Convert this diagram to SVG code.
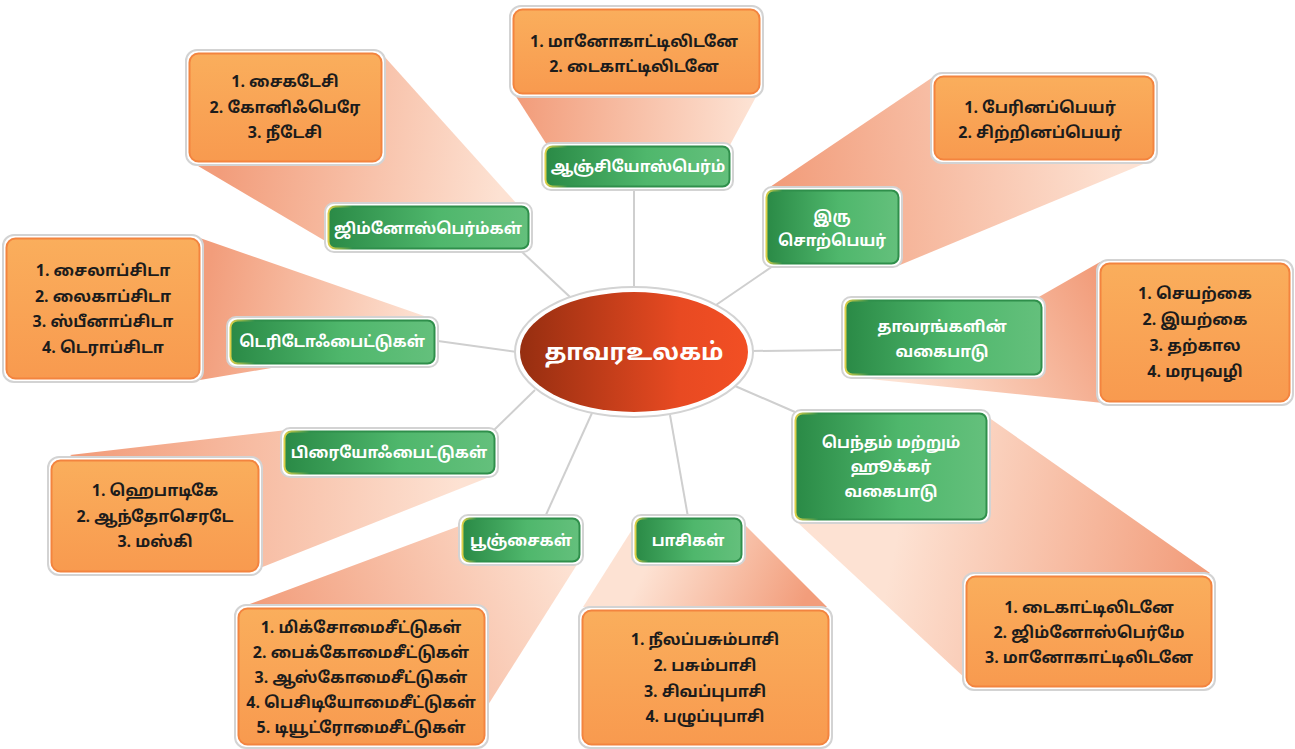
<svg xmlns="http://www.w3.org/2000/svg" width="1295" height="749" viewBox="0 0 1295 749">
<defs>
<linearGradient id="gFill" x1="0" y1="0" x2="1" y2="0"><stop offset="0" stop-color="#2a8a46"/><stop offset="0.55" stop-color="#4fb76c"/><stop offset="1" stop-color="#64c07c"/></linearGradient>
<linearGradient id="gStroke" x1="0" y1="0" x2="1" y2="0"><stop offset="0" stop-color="#dccf48"/><stop offset="0.12" stop-color="#2f8f4b"/><stop offset="1" stop-color="#2f8f4b"/></linearGradient>
<linearGradient id="oFill" x1="0" y1="0" x2="0" y2="1"><stop offset="0" stop-color="#faae5c"/><stop offset="1" stop-color="#f89a4f"/></linearGradient>
<linearGradient id="rFill" x1="0" y1="0" x2="1" y2="0"><stop offset="0" stop-color="#962e10"/><stop offset="0.7" stop-color="#e84a22"/><stop offset="1" stop-color="#f24f24"/></linearGradient>
<linearGradient id="fA" gradientUnits="userSpaceOnUse" x1="520" y1="110" x2="750" y2="120"><stop offset="0" stop-color="#f29d7b"/><stop offset="1" stop-color="#fde2d3"/></linearGradient>
<linearGradient id="fB" gradientUnits="userSpaceOnUse" x1="220" y1="170" x2="500" y2="200"><stop offset="0" stop-color="#f29d7b"/><stop offset="1" stop-color="#fde2d3"/></linearGradient>
<linearGradient id="fC" gradientUnits="userSpaceOnUse" x1="780" y1="200" x2="1120" y2="170"><stop offset="0" stop-color="#f29d7b"/><stop offset="1" stop-color="#fde2d3"/></linearGradient>
<linearGradient id="fD" gradientUnits="userSpaceOnUse" x1="205" y1="300" x2="420" y2="330"><stop offset="0" stop-color="#f29d7b"/><stop offset="1" stop-color="#fde2d3"/></linearGradient>
<linearGradient id="fE" gradientUnits="userSpaceOnUse" x1="1095" y1="275" x2="900" y2="385"><stop offset="0" stop-color="#f29d7b"/><stop offset="1" stop-color="#fde2d3"/></linearGradient>
<linearGradient id="fF" gradientUnits="userSpaceOnUse" x1="80" y1="460" x2="460" y2="470"><stop offset="0" stop-color="#f29d7b"/><stop offset="1" stop-color="#fde2d3"/></linearGradient>
<linearGradient id="fG" gradientUnits="userSpaceOnUse" x1="1200" y1="580" x2="900" y2="520"><stop offset="0" stop-color="#f29d7b"/><stop offset="1" stop-color="#fde2d3"/></linearGradient>
<linearGradient id="fH" gradientUnits="userSpaceOnUse" x1="270" y1="650" x2="560" y2="540"><stop offset="0" stop-color="#f29d7b"/><stop offset="1" stop-color="#fde2d3"/></linearGradient>
<linearGradient id="fI" gradientUnits="userSpaceOnUse" x1="800" y1="610" x2="660" y2="540"><stop offset="0" stop-color="#f29d7b"/><stop offset="1" stop-color="#fde2d3"/></linearGradient>
</defs>
<style>
.out{fill:#fff;stroke:#d3d3d3;stroke-width:2}
.g{fill:url(#gFill);stroke:url(#gStroke);stroke-width:2}
.o{fill:url(#oFill);stroke:#f3843f;stroke-width:2}
.conn{stroke:#cfcfcf;stroke-width:2;fill:none}
.ot{font-family:"Noto Sans Tamil","Noto Sans","Liberation Sans",sans-serif;font-size:16px;font-weight:700;fill:#1c1c1c;text-anchor:middle}
.gt{font-family:"Noto Sans Tamil","Noto Sans","Liberation Sans",sans-serif;font-size:15.5px;font-weight:700;fill:#fff;text-anchor:middle}
.ct{font-family:"Noto Sans Tamil","Noto Sans","Liberation Sans",sans-serif;font-size:24px;font-weight:700;fill:#fff;text-anchor:middle}
</style>
<g id="fans">
<polygon points="515,95 757,95 730,145 547,145" fill="url(#fA)"/>
<polygon points="193,163 383,55 517,204 327,242" fill="url(#fB)"/>
<polygon points="770,187 933,77 1153,160 900,265" fill="url(#fC)"/>
<polygon points="197,237 430,318 277,367 200,380" fill="url(#fD)"/>
<polygon points="1037,298 1100,262 1103,403 850,377" fill="url(#fE)"/>
<polygon points="70,455 287,430 487,478 260,568" fill="url(#fF)"/>
<polygon points="988,417 1210,573 967,680 798,523" fill="url(#fG)"/>
<polygon points="247,605 462,525 578,563 488,705" fill="url(#fH)"/>
<polygon points="635,525 745,525 827,607 583,607" fill="url(#fI)"/>
</g>
<g id="connectors">
<line class="conn" x1="634" y1="190" x2="634" y2="290"/>
<line class="conn" x1="520" y1="250" x2="570" y2="297"/>
<line class="conn" x1="773" y1="266" x2="716" y2="305"/>
<line class="conn" x1="438" y1="341" x2="517" y2="352"/>
<line class="conn" x1="751" y1="351" x2="843" y2="350"/>
<line class="conn" x1="535" y1="390" x2="493" y2="431"/>
<line class="conn" x1="735" y1="386" x2="795" y2="412"/>
<line class="conn" x1="592" y1="413" x2="545" y2="517"/>
<line class="conn" x1="670" y1="415" x2="688" y2="517"/>
</g>
<g id="center">
<ellipse class="out" cx="634" cy="352" rx="119" ry="65"/>
<ellipse cx="634" cy="352" rx="114" ry="60" fill="url(#rFill)"/>
<text class="ct" x="634" y="360">தாவரஉலகம்</text>
</g>
<g id="n-angio">
<rect class="out" x="542" y="143" width="191" height="47" rx="9"/>
<rect class="g" x="545.5" y="146.5" width="184" height="40" rx="7"/>
<text class="gt" x="638" y="172">ஆஞ்சியோஸ்பெர்ம்</text>
</g>
<g id="n-gymno">
<rect class="out" x="325" y="203" width="207" height="49" rx="9"/>
<rect class="g" x="328.5" y="206.5" width="200" height="42" rx="7"/>
<text class="gt" x="428" y="234">ஜிம்னோஸ்பெர்ம்கள்</text>
</g>
<g id="n-binomial">
<rect class="out" x="763" y="187" width="139" height="80" rx="9"/>
<rect class="g" x="766.5" y="190.5" width="132" height="73" rx="7"/>
<text class="gt" x="832" y="222">இரு</text>
<text class="gt" x="832" y="246">சொற்பெயர்</text>
</g>
<g id="n-pterido">
<rect class="out" x="227" y="317" width="211" height="50" rx="9"/>
<rect class="g" x="230.5" y="320.5" width="204" height="43" rx="7"/>
<text class="gt" x="332" y="347">டெரிடோஃபைட்டுகள்</text>
</g>
<g id="n-classif">
<rect class="out" x="842" y="297" width="203" height="81" rx="9"/>
<rect class="g" x="845.5" y="300.5" width="196" height="74" rx="7"/>
<text class="gt" x="942" y="332">தாவரங்களின்</text>
<text class="gt" x="942" y="357">வகைபாடு</text>
</g>
<g id="n-bryo">
<rect class="out" x="281" y="428" width="217" height="49" rx="9"/>
<rect class="g" x="284.5" y="431.5" width="210" height="42" rx="7"/>
<text class="gt" x="389" y="458">பிரையோஃபைட்டுகள்</text>
</g>
<g id="n-bentham">
<rect class="out" x="792" y="410" width="198" height="113" rx="9"/>
<rect class="g" x="795.5" y="413.5" width="191" height="106" rx="7"/>
<text class="gt" x="891" y="448">பெந்தம் மற்றும்</text>
<text class="gt" x="891" y="472">ஹூக்கர்</text>
<text class="gt" x="891" y="497">வகைபாடு</text>
</g>
<g id="n-fungi">
<rect class="out" x="459" y="515" width="124" height="50" rx="9"/>
<rect class="g" x="462.5" y="518.5" width="117" height="43" rx="7"/>
<text class="gt" x="521" y="546">பூஞ்சைகள்</text>
</g>
<g id="n-algae">
<rect class="out" x="632" y="515" width="113" height="50" rx="9"/>
<rect class="g" x="635.5" y="518.5" width="106" height="43" rx="7"/>
<text class="gt" x="688" y="546">பாசிகள்</text>
</g>
<g id="l-angio">
<rect class="out" x="510" y="6" width="253" height="91" rx="11"/>
<rect class="o" x="513.5" y="9.5" width="246" height="84" rx="9"/>
<text class="ot" x="634" y="47">1. மானோகாட்டிலிடனே</text>
<text class="ot" x="634" y="72">2. டைகாட்டிலிடனே</text>
</g>
<g id="l-gymno">
<rect class="out" x="186" y="50" width="199" height="115" rx="11"/>
<rect class="o" x="189.5" y="53.5" width="192" height="108" rx="9"/>
<text class="ot" x="285" y="87">1. சைகடேசி</text>
<text class="ot" x="285" y="113">2. கோனிஃபெரே</text>
<text class="ot" x="285" y="138">3. நீடேசி</text>
</g>
<g id="l-binomial">
<rect class="out" x="931" y="73" width="226" height="90" rx="11"/>
<rect class="o" x="934.5" y="76.5" width="219" height="83" rx="9"/>
<text class="ot" x="1040" y="113">1. பேரினப்பெயர்</text>
<text class="ot" x="1040" y="138">2. சிற்றினப்பெயர்</text>
</g>
<g id="l-pterido">
<rect class="out" x="3" y="235" width="200" height="147" rx="11"/>
<rect class="o" x="6.5" y="238.5" width="193" height="140" rx="9"/>
<text class="ot" x="103" y="276">1. சைலாப்சிடா</text>
<text class="ot" x="103" y="302">2. லைகாப்சிடா</text>
<text class="ot" x="103" y="327">3. ஸ்பீனாப்சிடா</text>
<text class="ot" x="103" y="353">4. டெராப்சிடா</text>
</g>
<g id="l-classif">
<rect class="out" x="1097" y="260" width="196" height="145" rx="11"/>
<rect class="o" x="1100.5" y="263.5" width="189" height="138" rx="9"/>
<text class="ot" x="1195" y="299">1. செயற்கை</text>
<text class="ot" x="1195" y="325">2. இயற்கை</text>
<text class="ot" x="1195" y="351">3. தற்கால</text>
<text class="ot" x="1195" y="377">4. மரபுவழி</text>
</g>
<g id="l-bryo">
<rect class="out" x="48" y="457" width="214" height="118" rx="11"/>
<rect class="o" x="51.5" y="460.5" width="207" height="111" rx="9"/>
<text class="ot" x="155" y="496">1. ஹெபாடிகே</text>
<text class="ot" x="155" y="522">2. ஆந்தோசெரடே</text>
<text class="ot" x="155" y="547">3. மஸ்கி</text>
</g>
<g id="l-bentham">
<rect class="out" x="963" y="573" width="252" height="117" rx="11"/>
<rect class="o" x="966.5" y="576.5" width="245" height="110" rx="9"/>
<text class="ot" x="1089" y="613">1. டைகாட்டிலிடனே</text>
<text class="ot" x="1089" y="638">2. ஜிம்னோஸ்பெர்மே</text>
<text class="ot" x="1089" y="663">3. மானோகாட்டிலிடனே</text>
</g>
<g id="l-fungi">
<rect class="out" x="235" y="605" width="253" height="143" rx="11"/>
<rect class="o" x="238.5" y="608.5" width="246" height="136" rx="9"/>
<text class="ot" x="361" y="633">1. மிக்சோமைசீட்டுகள்</text>
<text class="ot" x="361" y="658">2. பைக்கோமைசீட்டுகள்</text>
<text class="ot" x="361" y="683">3. ஆஸ்கோமைசீட்டுகள்</text>
<text class="ot" x="361" y="708">4. பெசிடியோமைசீட்டுகள்</text>
<text class="ot" x="361" y="733">5. டியூட்ரோமைசீட்டுகள்</text>
</g>
<g id="l-algae">
<rect class="out" x="579" y="607" width="253" height="141" rx="11"/>
<rect class="o" x="582.5" y="610.5" width="246" height="134" rx="9"/>
<text class="ot" x="705" y="645">1. நீலப்பசும்பாசி</text>
<text class="ot" x="705" y="671">2. பசும்பாசி</text>
<text class="ot" x="705" y="697">3. சிவப்புபாசி</text>
<text class="ot" x="705" y="722">4. பழுப்புபாசி</text>
</g>
</svg>
